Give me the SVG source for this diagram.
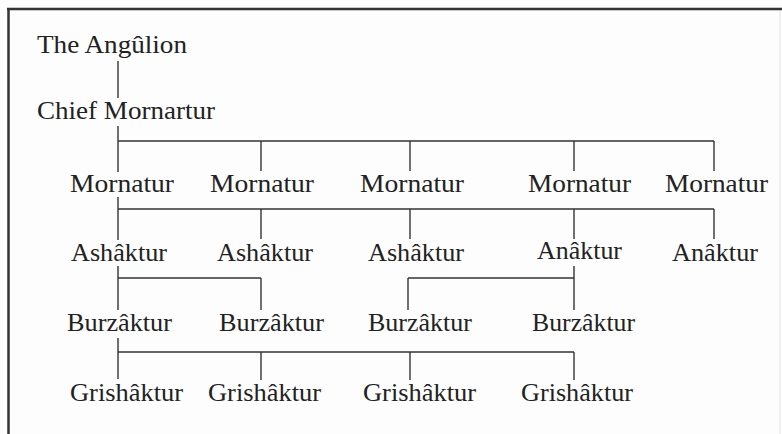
<svg xmlns="http://www.w3.org/2000/svg" width="782" height="434" viewBox="0 0 782 434">
<style>
.t{font-family:"Liberation Serif","Times New Roman",serif;font-size:26px;fill:#222}
.c line{stroke:#333;stroke-width:1.4;fill:none}
</style>
<rect width="782" height="434" fill="#fdfdfd"/>
<g id="frame">
<line x1="7" y1="9" x2="782" y2="9" stroke="#333" stroke-width="2.5"/>
<line x1="8.5" y1="8" x2="8.5" y2="434" stroke="#333" stroke-width="2.5"/>
<line x1="780" y1="11" x2="780" y2="434" stroke="#e4e4e4" stroke-width="1"/>
</g>
<g class="c" id="connectors">
<line x1="118" y1="61" x2="118" y2="98"/>
<line x1="118" y1="126" x2="118" y2="172"/>
<line x1="118" y1="141" x2="714" y2="141"/>
<line x1="261" y1="141" x2="261" y2="171"/>
<line x1="410" y1="141" x2="410" y2="171"/>
<line x1="574" y1="141" x2="574" y2="171"/>
<line x1="714" y1="141" x2="714" y2="171"/>
<line x1="118" y1="197" x2="118" y2="240"/>
<line x1="118" y1="209" x2="714" y2="209"/>
<line x1="261" y1="209" x2="261" y2="239"/>
<line x1="410" y1="209" x2="410" y2="239"/>
<line x1="574" y1="209" x2="574" y2="239"/>
<line x1="714" y1="209" x2="714" y2="239"/>
<line x1="118" y1="266" x2="118" y2="310"/>
<line x1="118" y1="278" x2="261" y2="278"/>
<line x1="261" y1="278" x2="261" y2="310"/>
<line x1="574" y1="266" x2="574" y2="310"/>
<line x1="408" y1="278" x2="574" y2="278"/>
<line x1="408" y1="278" x2="408" y2="310"/>
<line x1="118" y1="338" x2="118" y2="379"/>
<line x1="118" y1="352" x2="574" y2="352"/>
<line x1="261" y1="352" x2="261" y2="380"/>
<line x1="410" y1="352" x2="410" y2="380"/>
<line x1="574" y1="352" x2="574" y2="380"/>
</g>
<g id="angulion"><text class="t" x="37" y="53" textLength="150" lengthAdjust="spacingAndGlyphs">The Angûlion</text></g>
<g id="chief"><text class="t" x="37" y="119" textLength="178" lengthAdjust="spacingAndGlyphs">Chief Mornartur</text></g>
<g id="mornatur1"><text class="t" x="70" y="192" textLength="104" lengthAdjust="spacingAndGlyphs">Mornatur</text></g>
<g id="mornatur2"><text class="t" x="210" y="192" textLength="104" lengthAdjust="spacingAndGlyphs">Mornatur</text></g>
<g id="mornatur3"><text class="t" x="360" y="192" textLength="104" lengthAdjust="spacingAndGlyphs">Mornatur</text></g>
<g id="mornatur4"><text class="t" x="528" y="192" textLength="103" lengthAdjust="spacingAndGlyphs">Mornatur</text></g>
<g id="mornatur5"><text class="t" x="665" y="192" textLength="103" lengthAdjust="spacingAndGlyphs">Mornatur</text></g>
<g id="ashaktur1"><text class="t" x="71" y="261" textLength="96" lengthAdjust="spacingAndGlyphs">Ashâktur</text></g>
<g id="ashaktur2"><text class="t" x="217" y="261" textLength="96" lengthAdjust="spacingAndGlyphs">Ashâktur</text></g>
<g id="ashaktur3"><text class="t" x="368" y="261" textLength="96" lengthAdjust="spacingAndGlyphs">Ashâktur</text></g>
<g id="anaktur1"><text class="t" x="537" y="259" textLength="85" lengthAdjust="spacingAndGlyphs">Anâktur</text></g>
<g id="anaktur2"><text class="t" x="672" y="261" textLength="86" lengthAdjust="spacingAndGlyphs">Anâktur</text></g>
<g id="burzaktur1"><text class="t" x="67" y="331" textLength="105" lengthAdjust="spacingAndGlyphs">Burzâktur</text></g>
<g id="burzaktur2"><text class="t" x="219" y="331" textLength="105" lengthAdjust="spacingAndGlyphs">Burzâktur</text></g>
<g id="burzaktur3"><text class="t" x="368" y="331" textLength="104" lengthAdjust="spacingAndGlyphs">Burzâktur</text></g>
<g id="burzaktur4"><text class="t" x="532" y="331" textLength="103" lengthAdjust="spacingAndGlyphs">Burzâktur</text></g>
<g id="grishaktur1"><text class="t" x="70" y="401" textLength="113" lengthAdjust="spacingAndGlyphs">Grishâktur</text></g>
<g id="grishaktur2"><text class="t" x="208" y="401" textLength="113" lengthAdjust="spacingAndGlyphs">Grishâktur</text></g>
<g id="grishaktur3"><text class="t" x="363" y="401" textLength="113" lengthAdjust="spacingAndGlyphs">Grishâktur</text></g>
<g id="grishaktur4"><text class="t" x="521" y="401" textLength="112" lengthAdjust="spacingAndGlyphs">Grishâktur</text></g>
</svg>
